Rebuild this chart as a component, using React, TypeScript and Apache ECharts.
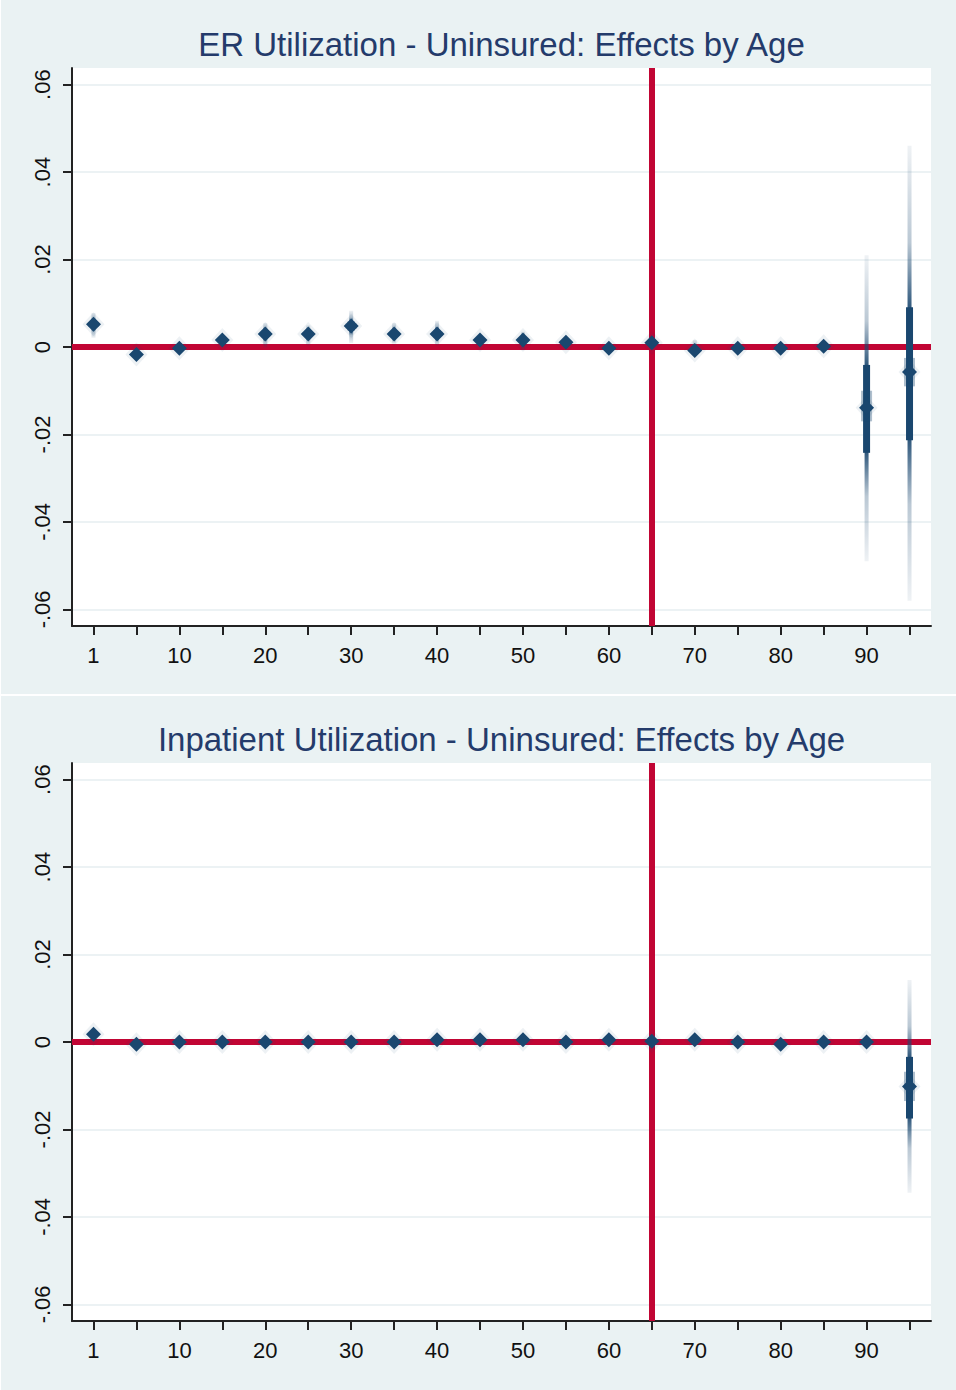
import React, { useEffect, useRef } from 'react';
import * as echarts from 'echarts';

const ages = ['1', '5', '10', '15', '20', '25', '30', '35', '40', '45', '50', '55', '60', '65', '70', '75', '80', '85', '90', '95'];
const yTicks = [-0.06, -0.04, -0.02, 0, 0.02, 0.04, 0.06];
const titles = ['ER Utilization - Uninsured: Effects by Age', 'Inpatient Utilization - Uninsured: Effects by Age'];
const cutoffAge = '65';

// ER utilization
const erPoint = [0.0052, -0.0017, -0.0003, 0.0016, 0.003, 0.003, 0.0048, 0.003, 0.003, 0.0016, 0.0016, 0.0011, -0.0003, 0.001, -0.0008, -0.0003, -0.0003, 0.0002, -0.0139, -0.0057];
const erLow = [0.0021, -0.0028, -0.0012, 0.0006, -0.0002, 0.0005, 0.0009, 0.0009, 0.0005, 0.0004, -0.0007, 0.0001, -0.0012, 0.0001, -0.0018, -0.0012, -0.0012, -0.0007, -0.049, -0.058];
const erHigh = [0.0078, -0.0006, 0.0006, 0.0026, 0.0055, 0.005, 0.0083, 0.0055, 0.006, 0.0028, 0.0035, 0.0021, 0.0006, 0.0019, 0.0016, 0.0006, 0.0006, 0.0011, 0.021, 0.046];
const erMidLow = [0.0044, -0.0022, -0.0008, 0.0011, 0.0022, 0.0023, 0.0038, 0.0023, 0.0022, 0.0011, 0.0009, 0.0007, -0.0007, 0.0006, -0.0012, -0.0007, -0.0007, -0.0002, -0.0242, -0.0213];
const erMidHigh = [0.006, -0.0012, 0.0002, 0.0021, 0.0038, 0.0037, 0.0058, 0.0037, 0.0038, 0.0021, 0.0023, 0.0015, 0.0001, 0.0014, -0.0004, 0.0001, 0.0001, 0.0006, -0.0041, 0.0091];
const erInLow = [0.0047, -0.002, -0.0006, 0.0013, 0.0025, 0.0026, 0.0042, 0.0026, 0.0025, 0.0013, 0.0012, 0.0008, -0.0005, 0.0007, -0.001, -0.0005, -0.0005, -0.0001, -0.017, -0.009];
const erInHigh = [0.0057, -0.0014, 0.0, 0.0019, 0.0035, 0.0034, 0.0054, 0.0034, 0.0035, 0.0019, 0.002, 0.0014, -0.0001, 0.0013, -0.0006, -0.0001, -0.0001, 0.0005, -0.01, -0.0025];

// Inpatient utilization
const ipPoint = [0.0018, -0.0005, 0.0, 0.0, 0.0, 0.0, 0.0, 0.0, 0.0005, 0.0005, 0.0005, 0.0, 0.0005, 0.0002, 0.0005, 0.0, -0.0005, 0.0, 0.0, -0.0102];
const ipLow = [0.0003, -0.0012, -0.0007, -0.0007, -0.0007, -0.0007, -0.0007, -0.0007, -0.0002, -0.0002, -0.0002, -0.0007, -0.0002, -0.0005, -0.0002, -0.0007, -0.0012, -0.0007, -0.0007, -0.0345];
const ipHigh = [0.003, 0.0002, 0.0007, 0.0007, 0.0007, 0.0007, 0.0007, 0.0007, 0.0012, 0.0012, 0.0012, 0.0007, 0.0012, 0.0009, 0.0012, 0.0007, 0.0002, 0.0007, 0.0007, 0.0142];
const ipMidLow = [0.0014, -0.0009, -0.0004, -0.0004, -0.0004, -0.0004, -0.0004, -0.0004, 0.0001, 0.0001, 0.0001, -0.0004, 0.0001, -0.0002, 0.0001, -0.0004, -0.0009, -0.0004, -0.0004, -0.0175];
const ipMidHigh = [0.0022, -0.0001, 0.0004, 0.0004, 0.0004, 0.0004, 0.0004, 0.0004, 0.0009, 0.0009, 0.0009, 0.0004, 0.0009, 0.0006, 0.0009, 0.0004, -0.0001, 0.0004, 0.0004, -0.0034];
const ipInLow = [0.0015, -0.0008, -0.0003, -0.0003, -0.0003, -0.0003, -0.0003, -0.0003, 0.0002, 0.0002, 0.0002, -0.0003, 0.0002, -0.0001, 0.0002, -0.0003, -0.0008, -0.0003, -0.0003, -0.0135];
const ipInHigh = [0.0021, -0.0002, 0.0003, 0.0003, 0.0003, 0.0003, 0.0003, 0.0003, 0.0008, 0.0008, 0.0008, 0.0003, 0.0008, 0.0005, 0.0008, 0.0003, -0.0002, 0.0003, 0.0003, -0.0068];

const NAVY = '#1a476f';
const RED = '#c10534';
const BG = '#eaf2f3';
const FONT = '"Liberation Sans", Arial, Helvetica, sans-serif';
const Y_MIN = -0.0638;
const Y_MAX = 0.0638;

const fmtY = (v: number) => {
  if (Math.abs(v) < 1e-9) return '0';
  const s = Math.abs(v).toFixed(2).replace(/^0/, '');
  return (v < 0 ? '-' : '') + s;
};

type Panel = {
  point: number[]; low: number[]; high: number[];
  midLow: number[]; midHigh: number[]; inLow: number[]; inHigh: number[];
};

const panels: Panel[] = [
  { point: erPoint, low: erLow, high: erHigh, midLow: erMidLow, midHigh: erMidHigh, inLow: erInLow, inHigh: erInHigh },
  { point: ipPoint, low: ipLow, high: ipHigh, midLow: ipMidLow, midHigh: ipMidHigh, inLow: ipInLow, inHigh: ipInHigh },
];

const PANEL_H = 695;
const GRID_TOP = 68;
const GRID_H = 558;

function renderCI(params: any, api: any) {
  const i = api.value(0);
  const lo = api.coord([i, api.value(1)]);
  const hi = api.coord([i, api.value(2)]);
  const mlo = api.coord([i, api.value(3)]);
  const mhi = api.coord([i, api.value(4)]);
  const ilo = api.coord([i, api.value(5)]);
  const ihi = api.coord([i, api.value(6)]);
  const x = hi[0];
  const top = hi[1];
  const bot = lo[1];
  const h = Math.max(bot - top, 0.01);
  const s1 = Math.min(Math.max((mhi[1] - top) / h, 0), 1);
  const s2 = Math.min(Math.max((mlo[1] - top) / h, s1), 1);
  const grad = new echarts.graphic.LinearGradient(0, 0, 0, 1, [
    { offset: 0, color: 'rgba(26,71,111,0.07)' },
    { offset: s1 * 0.6, color: 'rgba(26,71,111,0.3)' },
    { offset: s1, color: 'rgba(26,71,111,0.9)' },
    { offset: s2, color: 'rgba(26,71,111,0.9)' },
    { offset: s2 + (1 - s2) * 0.4, color: 'rgba(26,71,111,0.3)' },
    { offset: 1, color: 'rgba(26,71,111,0.07)' },
  ]);
  return {
    type: 'group',
    children: [
      { type: 'rect', shape: { x: x - 2, y: top, width: 4, height: h }, style: { fill: grad } },
      { type: 'rect', shape: { x: x - 3.5, y: mhi[1], width: 7, height: mlo[1] - mhi[1] }, style: { fill: NAVY } },
      { type: 'rect', shape: { x: x - 5.5, y: ihi[1], width: 11, height: ilo[1] - ihi[1] }, style: { fill: 'rgba(26,71,111,0.35)' } },
    ],
  };
}

export default function App() {
  const ref = useRef<HTMLDivElement>(null);

  useEffect(() => {
    if (!ref.current) return;
    const chart = echarts.init(ref.current, null, { renderer: 'svg' });

    const grids: any[] = [];
    const xAxes: any[] = [];
    const yAxes: any[] = [];
    const series: any[] = [];
    const graphics: any[] = [];

    panels.forEach((p, k) => {
      const top = GRID_TOP + k * PANEL_H;
      grids.push({
        left: 72, right: 25, top, height: GRID_H,
        show: true, backgroundColor: '#ffffff', borderWidth: 0,
        outerBoundsMode: 'none', containLabel: false,
      });
      xAxes.push({
        type: 'category', gridIndex: k, data: ages, boundaryGap: true,
        axisLine: { show: true, onZero: false, lineStyle: { color: '#222', width: 2 } },
        axisTick: { show: true, interval: 0, alignWithLabel: true, length: 9, lineStyle: { color: '#222', width: 2 } },
        axisLabel: {
          interval: (idx: number) => idx % 2 === 0,
          margin: 18, fontSize: 22, color: '#111', fontFamily: FONT,
        },
        splitLine: { show: false },
      });
      yAxes.push({
        type: 'value', gridIndex: k, min: Y_MIN, max: Y_MAX,
        axisLine: { show: true, lineStyle: { color: '#222', width: 2 } },
        axisTick: { show: true, length: 9, customValues: yTicks, lineStyle: { color: '#222', width: 2 } },
        axisLabel: {
          customValues: yTicks, rotate: 90, margin: 19, fontSize: 22, color: '#111',
          fontFamily: FONT, formatter: fmtY,
        },
        splitLine: { show: true, lineStyle: { color: '#e6eef1', width: 1.5 } },
      });

      // reference lines (drawn first, beneath CIs)
      series.push({
        type: 'line', xAxisIndex: k, yAxisIndex: k, data: p.point,
        symbol: 'none', lineStyle: { opacity: 0 }, z: 1, silent: true,
        markLine: {
          z: 1, silent: true, symbol: 'none', label: { show: false },
          lineStyle: { color: RED, width: 6, type: 'solid', opacity: 1 },
          emphasis: { disabled: true },
          data: [{ yAxis: 0 }, { xAxis: cutoffAge }],
        },
      });
      // confidence intervals
      series.push({
        type: 'custom', xAxisIndex: k, yAxisIndex: k, z: 3, silent: true,
        renderItem: renderCI,
        encode: { x: 0, y: [1, 2, 3, 4, 5, 6] },
        data: ages.map((_, i) => [i, p.low[i], p.high[i], p.midLow[i], p.midHigh[i], p.inLow[i], p.inHigh[i]]),
      });
      // marker halo
      series.push({
        type: 'scatter', xAxisIndex: k, yAxisIndex: k, z: 4, silent: true,
        symbol: 'diamond', symbolSize: [22, 24],
        itemStyle: { color: 'rgba(26,71,111,0.1)' },
        data: p.point,
      });
      // point estimates
      series.push({
        type: 'scatter', xAxisIndex: k, yAxisIndex: k, z: 5, silent: true,
        symbol: 'diamond', symbolSize: 15,
        itemStyle: { color: NAVY, opacity: 1 },
        data: p.point,
      });

      graphics.push({
        type: 'text', x: 501.5, y: 44 + k * PANEL_H, z: 10,
        style: {
          text: titles[k], fontSize: 33, fill: '#243b6b', fontFamily: FONT,
          align: 'center', verticalAlign: 'middle',
        },
      });
    });

    graphics.push({ type: 'rect', shape: { x: 0, y: 694, width: 956, height: 2 }, style: { fill: '#ffffff' }, z: 10 });
    graphics.push({ type: 'rect', shape: { x: 0, y: 0, width: 1, height: 1390 }, style: { fill: '#ffffff' }, z: 10 });

    chart.setOption({
      animation: false,
      backgroundColor: BG,
      grid: grids,
      xAxis: xAxes,
      yAxis: yAxes,
      series,
      graphic: graphics,
      tooltip: { show: false },
    });

    return () => chart.dispose();
  }, []);

  return (
    <div
      ref={ref}
      style={{ position: 'absolute', left: 0, top: 0, width: 956, height: 1390 }}
    />
  );
}
